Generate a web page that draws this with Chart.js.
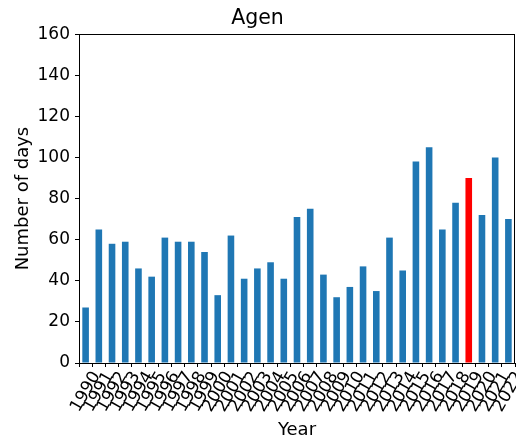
<!DOCTYPE html>
<html>
<head>
<meta charset="utf-8">
<script src="https://cdn.jsdelivr.net/npm/chart.js@4/dist/chart.umd.min.js"></script>
<style>
html,body{margin:0;padding:0;background:#fff;}
#wrap{width:516px;height:439px;}
</style>
</head>
<body>
<div id="wrap"><canvas id="c" width="516" height="439"></canvas></div>
<script>
const years = ["1990","1991","1992","1993","1994","1995","1996","1997","1998","1999","2000","2001","2002","2003","2004","2005","2006","2007","2008","2009","2010","2011","2012","2013","2014","2015","2016","2017","2018","2019","2020","2021","2022"];
const days = [27,65,58,59,46,42,61,59,59,54,33,62,41,46,49,41,71,75,43,32,37,47,35,61,45,98,105,65,78,90,72,100,70];
const highlightYear = "2019";
const yTicks = [0,20,40,60,80,100,120,140,160];

const barColors = years.map(y => y === highlightYear ? '#ff0000' : '#1f77b4');

const frame = {
  id: 'frame',
  afterDraw(chart) {
    const a = chart.chartArea, ctx = chart.ctx;
    ctx.save();
    ctx.strokeStyle = '#000';
    ctx.lineWidth = 1;
    ctx.strokeRect(Math.round(a.left) + 0.5, Math.round(a.top) + 0.5, Math.round(a.right - a.left) - 1, Math.round(a.bottom - a.top));
    ctx.restore();
  }
};

const FONT = "'DejaVu Sans', sans-serif";
new Chart(document.getElementById('c'), {
  type: 'bar',
  data: {
    labels: years,
    datasets: [{ data: days, backgroundColor: barColors, borderWidth: 0, categoryPercentage: 1, barPercentage: 0.5 }]
  },
  options: {
    responsive: false,
    animation: false,
    layout: { padding: { left: 0, right: 1, top: 0, bottom: 0 } },
    plugins: {
      legend: { display: false },
      tooltip: { enabled: false },
      title: { display: true, text: 'Agen', color: '#000', font: { family: FONT, size: 20.5, weight: 'normal' }, padding: { top: 6.5, bottom: 3 } }
    },
    scales: {
      x: {
        grid: { drawOnChartArea: false, drawTicks: true, tickLength: 4, color: '#000' },
        border: { display: true, color: '#000', width: 1 },
        ticks: { color: '#000', font: { family: FONT, size: 17 }, minRotation: 60, maxRotation: 60, autoSkip: false, padding: 1, labelOffset: 11 },
        title: { display: true, text: 'Year', color: '#000', font: { family: FONT, size: 18, lineHeight: 1.0 }, padding: { top: 0, bottom: 0 } },
        afterFit(s) { s.height = 76; s.paddingLeft = 0; s.paddingRight = 0; }
      },
      y: {
        min: 0, max: 160,
        afterBuildTicks(s) { s.ticks = yTicks.map(v => ({ value: v })); },
        grid: { drawOnChartArea: false, drawTicks: true, tickLength: 4, color: '#000' },
        border: { display: true, color: '#000', width: 1 },
        ticks: { color: '#000', font: { family: FONT, size: 17 }, padding: 5 },
        title: { display: true, text: 'Number of days', color: '#000', font: { family: FONT, size: 18 }, padding: { top: 13, bottom: 0 } },
        afterFit(s) { s.width = 79; s.paddingTop = 0; s.paddingBottom = 0; }
      }
    }
  },
  plugins: [frame]
});
</script>
</body>
</html>
